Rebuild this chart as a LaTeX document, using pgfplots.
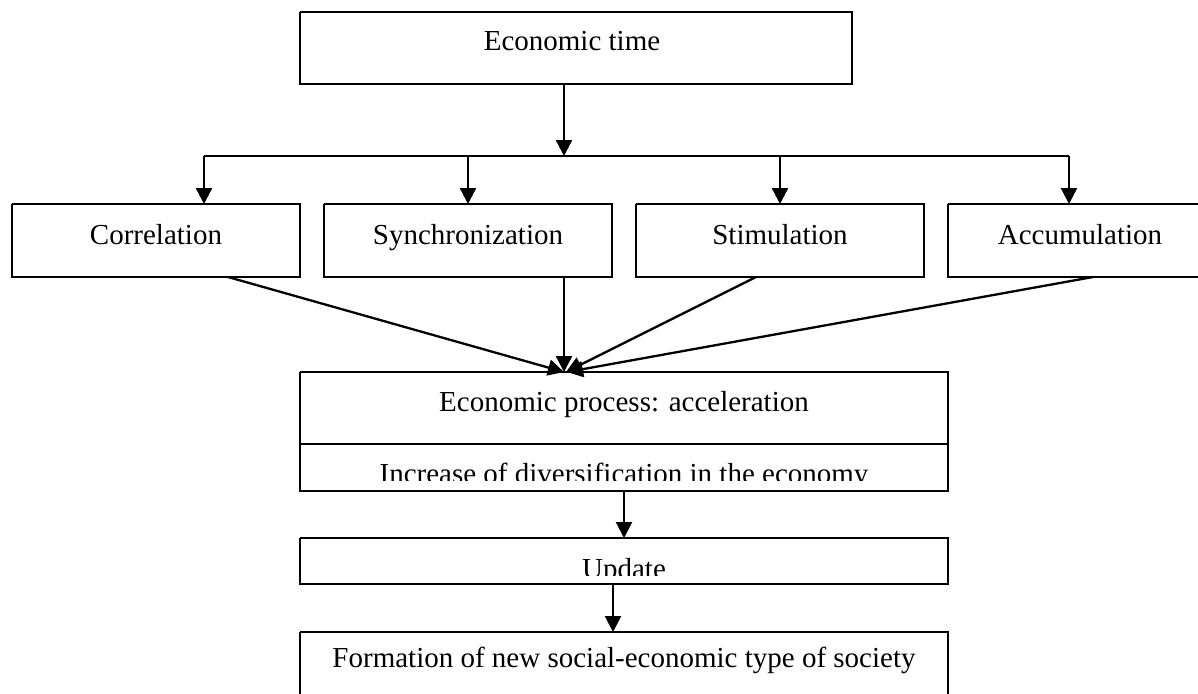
\documentclass[border=0pt]{standalone}
\usepackage{fontspec}
\setmainfont{Liberation Serif}
\usepackage{pgfplots}
\pgfplotsset{compat=1.18}
\usetikzlibrary{arrows.meta}
\tikzset{txt/.style={anchor=base, inner sep=0pt, font=\fontsize{14.5pt}{17pt}\selectfont}}
\begin{document}
\begin{tikzpicture}
\begin{axis}[
  width=599pt, height=346.5pt, scale only axis,
  xmin=0, xmax=1198, ymin=0, ymax=693, y dir=reverse,
  axis lines=none, clip=true,
]
% texts
\node[txt] at (axis cs:572,50) {Economic time};
\node[txt] at (axis cs:156,244) {Correlation};
\node[txt] at (axis cs:468,244) {Synchronization};
\node[txt] at (axis cs:780,244) {Stimulation};
\node[txt] at (axis cs:1080,244) {Accumulation};
\node[txt] at (axis cs:624,411) {Economic process: acceleration};
\node[txt] at (axis cs:624,483) {Increase of diversification in the economy};
\node[txt] at (axis cs:624,578) {Update};
\node[txt] at (axis cs:624,667) {Formation of new social-economic type of society};
% masks that cut off the lower parts of two texts
\fill[white] (axis cs:302,481) rectangle (axis cs:946,490);
\fill[white] (axis cs:302,576) rectangle (axis cs:946,583);
% boxes
\pgfplotsset{box/.style={black, line width=1.15pt, line join=miter, no marks}}
\addplot[box] coordinates {(300,12) (852,12) (852,84) (300,84) (300,12)};
\addplot[box] coordinates {(12,204) (300,204) (300,277) (12,277) (12,204)};
\addplot[box] coordinates {(324,204) (612,204) (612,277) (324,277) (324,204)};
\addplot[box] coordinates {(636,204) (924,204) (924,277) (636,277) (636,204)};
\addplot[box] coordinates {(948,204) (1210,204) (1210,277) (948,277) (948,204)};
\addplot[box] coordinates {(300,372) (948,372) (948,444) (300,444) (300,372)};
\addplot[box] coordinates {(300,444) (948,444) (948,491) (300,491) (300,444)};
\addplot[box] coordinates {(300,538) (948,538) (948,584) (300,584) (300,538)};
\addplot[box] coordinates {(300,632) (948,632) (948,710) (300,710) (300,632)};
% connectors
\pgfplotsset{arr/.style={black, line width=1.15pt, no marks, -{Triangle[length=8pt,width=8pt]}}}
\addplot[arr] coordinates {(564,84) (564,156)};
\addplot[black, line width=1.15pt, no marks] coordinates {(204,156) (1069,156)};
\addplot[arr] coordinates {(204,156) (204,204)};
\addplot[arr] coordinates {(468,156) (468,204)};
\addplot[arr] coordinates {(780,156) (780,204)};
\addplot[arr] coordinates {(1069,156) (1069,204)};
\addplot[arr] coordinates {(228,277) (564,372)};
\addplot[arr] coordinates {(564,277) (564,372)};
\addplot[arr] coordinates {(756,277) (566,372)};
\addplot[arr] coordinates {(1093,277) (567,372)};
\addplot[arr] coordinates {(624,491) (624,538)};
\addplot[arr] coordinates {(613,584) (613,632)};
\end{axis}
\pgfresetboundingbox
\path (current axis.south west) rectangle (current axis.north east);
\end{tikzpicture}
\end{document}
